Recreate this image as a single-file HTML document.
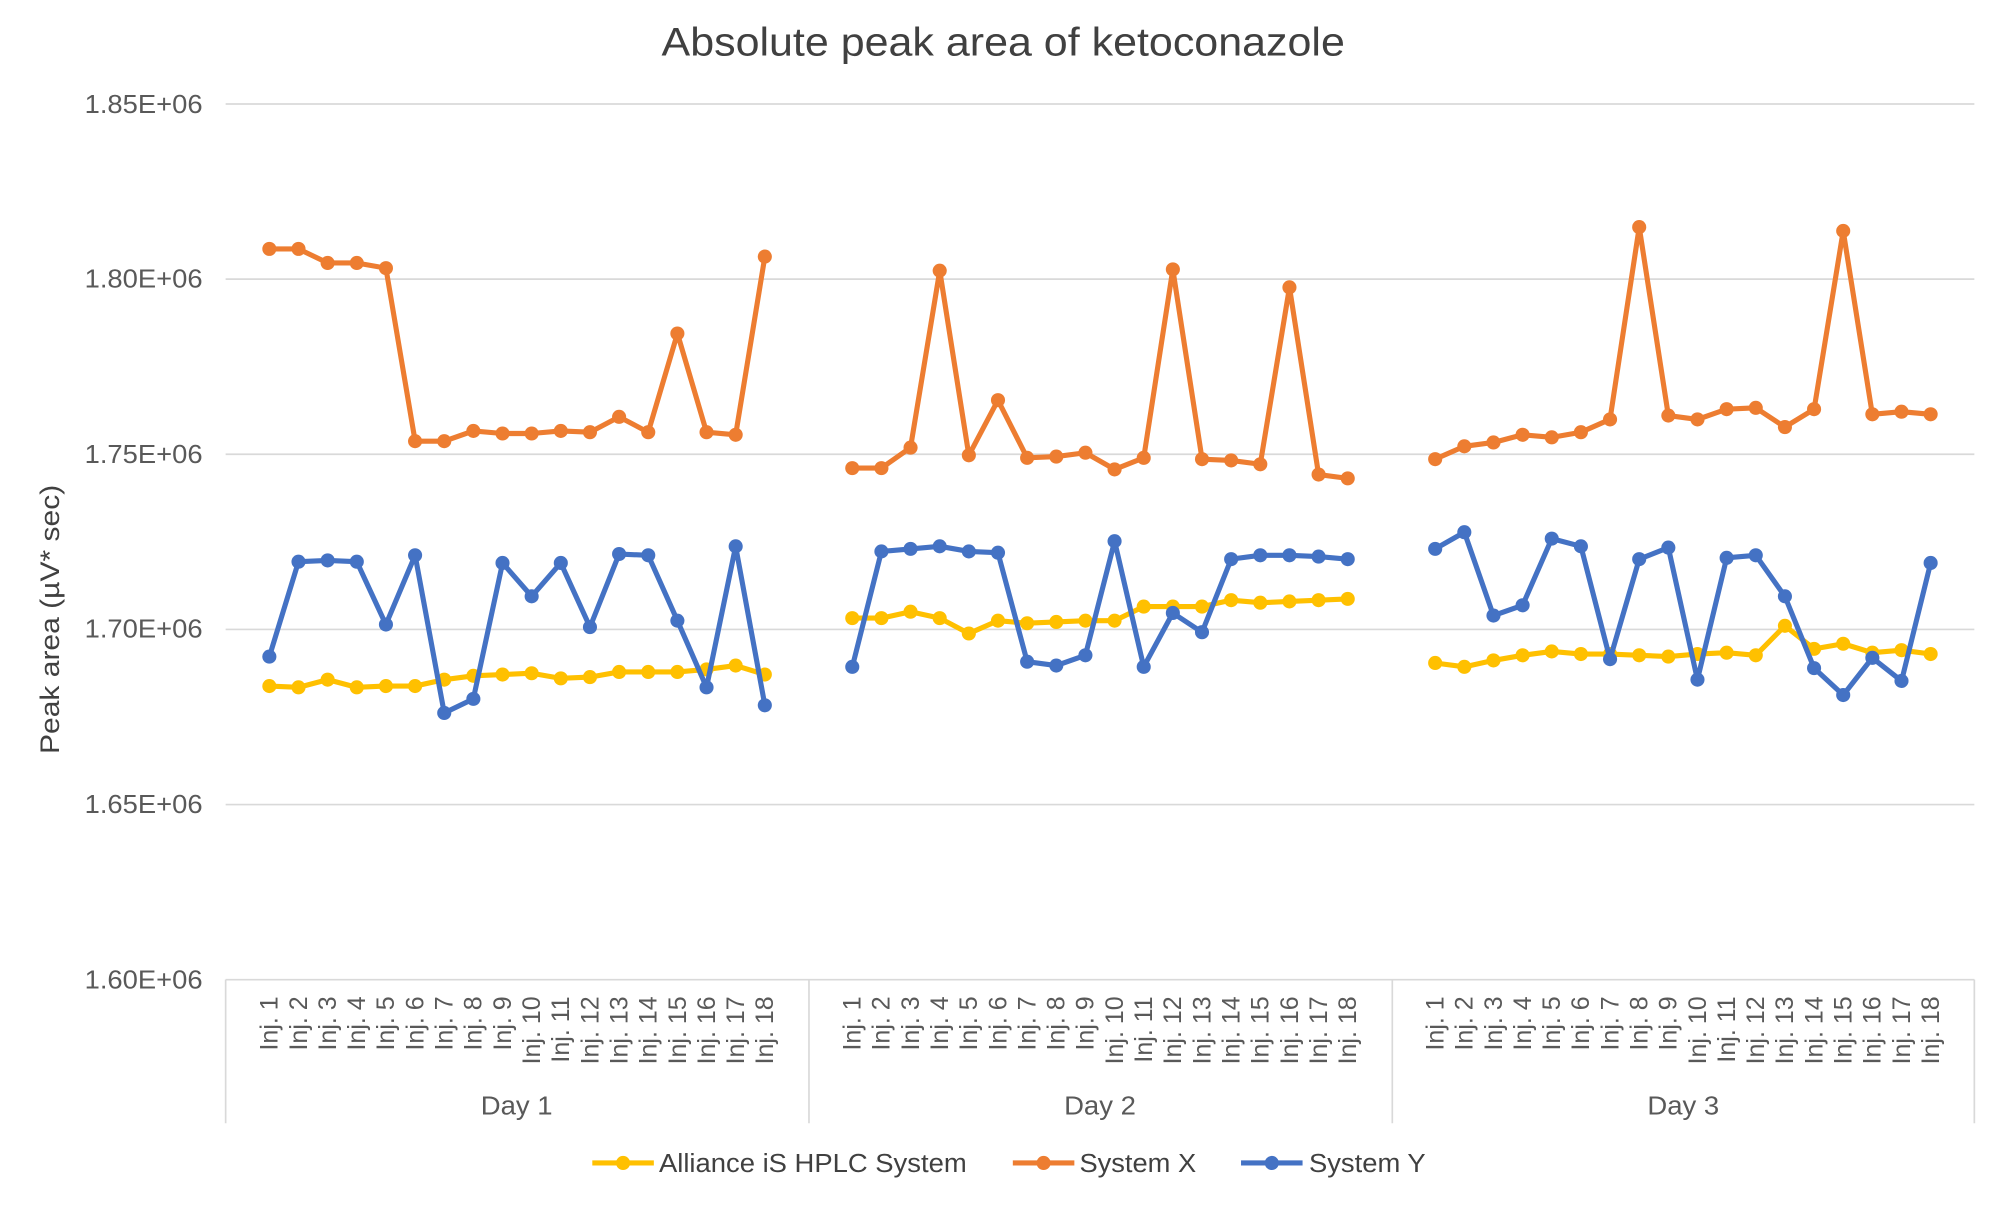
<!DOCTYPE html>
<html><head><meta charset="utf-8"><style>html,body{margin:0;padding:0;background:#fff}svg{display:block}</style></head>
<body>
<svg id="s" width="2000" height="1217" viewBox="0 0 1560 949" xmlns="http://www.w3.org/2000/svg" font-family="Liberation Sans, Arial, sans-serif">
<rect width="1560" height="949" fill="#fff"/>
<text x="516" y="43" font-size="31" fill="#404040" textLength="533" lengthAdjust="spacingAndGlyphs">Absolute peak area of ketoconazole</text>
<g stroke="#d9d9d9" stroke-width="1.3">
<line x1="176" y1="81" x2="1540" y2="81"/><line x1="176" y1="217.6" x2="1540" y2="217.6"/>
<line x1="176" y1="354.2" x2="1540" y2="354.2"/><line x1="176" y1="490.8" x2="1540" y2="490.8"/>
<line x1="176" y1="627.4" x2="1540" y2="627.4"/><line x1="176" y1="764" x2="1540" y2="764"/>
<line x1="176" y1="764" x2="176" y2="876"/><line x1="631" y1="764" x2="631" y2="876"/>
<line x1="1086" y1="764" x2="1086" y2="876"/><line x1="1540" y1="764" x2="1540" y2="876"/>
</g>
<g font-size="20" fill="#595959">
<text x="66" y="88" textLength="92" lengthAdjust="spacingAndGlyphs">1.85E+06</text>
<text x="66" y="224" textLength="92" lengthAdjust="spacingAndGlyphs">1.80E+06</text>
<text x="66" y="361" textLength="92" lengthAdjust="spacingAndGlyphs">1.75E+06</text>
<text x="66" y="497" textLength="92" lengthAdjust="spacingAndGlyphs">1.70E+06</text>
<text x="66" y="634" textLength="92" lengthAdjust="spacingAndGlyphs">1.65E+06</text>
<text x="66" y="771" textLength="92" lengthAdjust="spacingAndGlyphs">1.60E+06</text>
</g>
<text transform="translate(46,588) rotate(-90)" font-size="21" fill="#404040" textLength="210" lengthAdjust="spacingAndGlyphs">Peak area (µV* sec)</text>
<g font-size="20" fill="#595959">
<text x="375" y="869" textLength="56" lengthAdjust="spacingAndGlyphs">Day 1</text>
<text x="830" y="869" textLength="56" lengthAdjust="spacingAndGlyphs">Day 2</text>
<text x="1285" y="869" textLength="56" lengthAdjust="spacingAndGlyphs">Day 3</text>
</g>
<g id="xl" font-size="19.5" fill="#595959"></g>
<g id="series"></g>
<g font-size="20" fill="#404040">
<line x1="462" y1="907" x2="510" y2="907" stroke="#FFC000" stroke-width="4"/><circle cx="486" cy="907" r="5.5" fill="#FFC000"/>
<text x="514" y="914" textLength="240" lengthAdjust="spacingAndGlyphs">Alliance iS HPLC System</text>
<line x1="790" y1="907" x2="838" y2="907" stroke="#ED7D31" stroke-width="4"/><circle cx="814" cy="907" r="5.5" fill="#ED7D31"/>
<text x="842" y="914" textLength="91" lengthAdjust="spacingAndGlyphs">System X</text>
<line x1="968" y1="907" x2="1016" y2="907" stroke="#4472C4" stroke-width="4"/><circle cx="992" cy="907" r="5.5" fill="#4472C4"/>
<text x="1021" y="914" textLength="91" lengthAdjust="spacingAndGlyphs">System Y</text>
</g>
</svg>
<script>
var NS="http://www.w3.org/2000/svg";
function X(d,i){return 176+d*454.67+(i+0.5)*22.733;}
var data=[
["#FFC000",[[535,536,530,536,535,535,530,527,526,525,529,528,524,524,524,522,519,526],[482,482,477,482,494,484,486,485,484,484,473,473,473,468,470,469,468,467],[517,520,515,511,508,510,510,511,512,510,509,511,488,506,502,509,507,510]]],
["#ED7D31",[[194,194,205,205,209,344,344,336,338,338,336,337,325,337,260,337,339,200],[365,365,349,211,355,312,357,356,353,366,357,210,358,359,362,224,370,373],[358,348,345,339,341,337,327,177,324,327,319,318,333,319,180,323,321,323]]],
["#4472C4",[[512,438,437,438,487,433,556,545,439,465,439,489,432,433,484,536,426,550],[520,430,428,426,430,431,516,519,511,422,520,478,493,436,433,433,434,436],[428,415,480,472,420,426,514,436,427,530,435,433,465,521,542,513,531,439]]]
];
var g=document.getElementById("series");
data.forEach(function(s){
 s[1].forEach(function(arr,d){
  var pts=arr.map(function(y,k){return X(d,k+1).toFixed(1)+","+y;}).join(" ");
  var pl=document.createElementNS(NS,"polyline");
  pl.setAttribute("points",pts);pl.setAttribute("fill","none");pl.setAttribute("stroke",s[0]);pl.setAttribute("stroke-width","4");pl.setAttribute("stroke-linejoin","round");
  g.appendChild(pl);
  arr.forEach(function(y,k){var c=document.createElementNS(NS,"circle");c.setAttribute("cx",X(d,k+1));c.setAttribute("cy",y);c.setAttribute("r","5.5");c.setAttribute("fill",s[0]);g.appendChild(c);});
 });
});
var xl=document.getElementById("xl");
for(var d=0;d<3;d++){for(var i=1;i<=18;i++){
 var t=document.createElementNS(NS,"text");var x=X(d,i)+6.5;
 t.setAttribute("transform","translate("+x.toFixed(1)+",777) rotate(-90)");t.setAttribute("text-anchor","end");
 t.textContent="Inj. "+i;xl.appendChild(t);}}
</script>
</body></html>
